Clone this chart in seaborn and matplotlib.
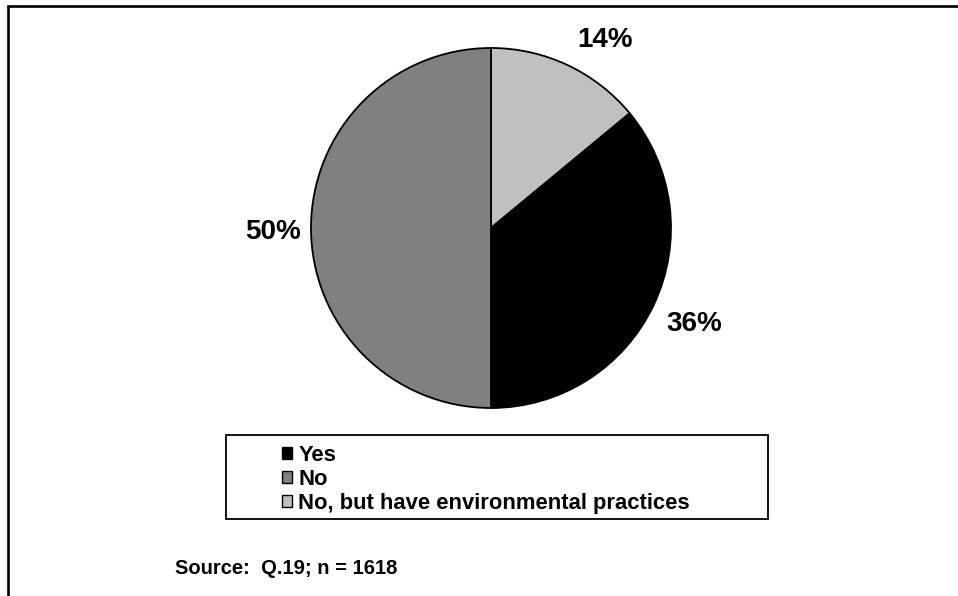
import matplotlib
matplotlib.use("Agg")
import matplotlib.pyplot as plt
import matplotlib.patches as mpatches
import numpy as np
import seaborn as sns

sns.set_theme(style="white")
plt.rcParams['font.family'] = ['Liberation Sans', 'DejaVu Sans']
plt.rcParams['text.color'] = 'black'

# Data (clockwise from 12 o'clock)
categories = ["No, but have environmental practices", "Yes", "No"]
values = [14, 36, 50]
colors = ["#C0C0C0", "#000000", "#808080"]
legend_order = ["Yes", "No", "No, but have environmental practices"]
source_text = "Source:  Q.19; n = 1618"

# label placement (distance factor, angular shift in degrees)
label_dist = [1.22, 1.25, 1.21]
label_shift = [-6, 0, 1]

W, H = 958, 596
fig = plt.figure(figsize=(W / 100, H / 100), dpi=100)
fig.patch.set_facecolor("white")

# outer frame (right and bottom edges fall outside the image)
fig.add_artist(mpatches.Rectangle((8 / W, -0.1), 1.2, 1 - 6 / H + 0.1,
                                  transform=fig.transFigure, fill=False,
                                  edgecolor="black", linewidth=1.9))

# pie axes: center at (491, 228) px from top, radius 180 px
cx, cy, R, L = 491, H - 228, 180, 1.4
S = R * L
ax = fig.add_axes([(cx - S) / W, (cy - S) / H, 2 * S / W, 2 * S / H])
wedges, _ = ax.pie(values, colors=colors, startangle=90, counterclock=False,
                   radius=1, wedgeprops=dict(edgecolor="black", linewidth=1.3))
ax.set_xlim(-L, L)
ax.set_ylim(-L, L)
ax.set_aspect("auto")
ax.axis("off")

for w, v, d, sh in zip(wedges, values, label_dist, label_shift):
    ang = np.deg2rad((w.theta1 + w.theta2) / 2 + sh)
    ax.text(d * np.cos(ang), d * np.sin(ang), f"{v}%", ha="center", va="center",
            fontsize=20, fontweight="bold", color="black")

# legend box
fig.add_artist(mpatches.Rectangle((226 / W, 1 - 519 / H), 542 / W, 84 / H,
                                  transform=fig.transFigure, fill=False,
                                  edgecolor="black", linewidth=1.3))
handles = [mpatches.Patch(facecolor=colors[categories.index(c)], edgecolor="black",
                          linewidth=1) for c in legend_order]
leg = fig.legend(handles, legend_order, loc="upper left",
                 bbox_to_anchor=(282 / W, 1 - 445 / H),
                 frameon=False, prop=dict(size=15.8, weight="bold"),
                 handlelength=0.45, handleheight=0.45, handletextpad=0.3,
                 labelspacing=0.14, borderpad=0, borderaxespad=0)
for t in leg.get_texts():
    t.set_color("black")

fig.text(175 / W, 1 - 569 / H, source_text, ha="left", va="center",
         fontsize=14.5, fontweight="bold", color="black")

fig.savefig("out.png", dpi=100, facecolor="white")
